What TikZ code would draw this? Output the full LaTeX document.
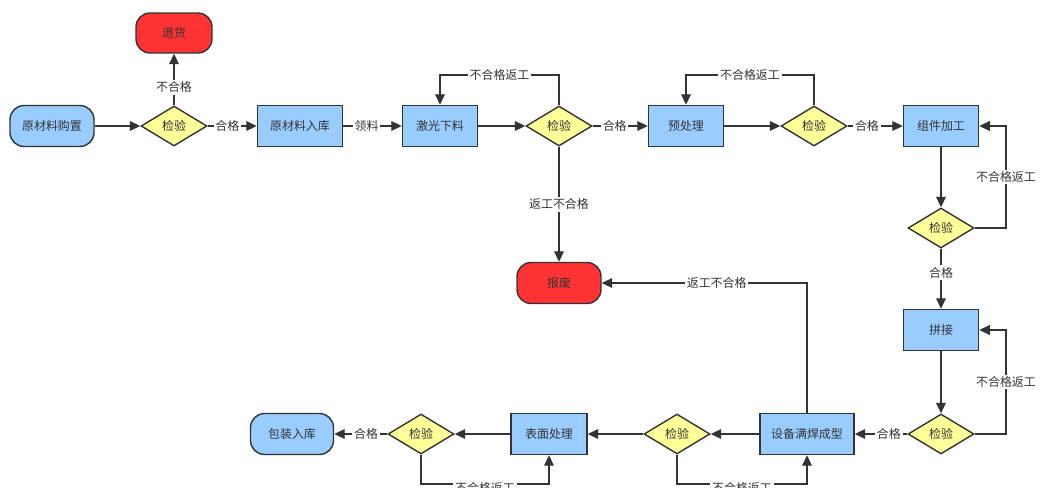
\documentclass[tikz,border=0pt]{standalone}
\usepackage{fontspec}
\setmainfont{Noto Sans CJK SC}
\usepackage{tikz}
\usetikzlibrary{shapes.geometric}
\usetikzlibrary{arrows.meta}
\definecolor{boxblue}{HTML}{99CCFF}
\definecolor{endred}{HTML}{FF3333}
\definecolor{chkyellow}{HTML}{FFFF99}
\definecolor{inkgray}{HTML}{333333}
\tikzset{
every node/.style={ % Font and colour of all texts
font=\fontsize{6.8}{8}\selectfont,
text=inkgray},
proc/.style={ % Process steps
draw=inkgray,
line width=0.8pt,
fill=boxblue,
minimum width=1.5cm,
minimum height=0.82cm},
startend/.style={proc, rounded corners=0.28cm, minimum width=1.68cm},
endbox/.style={startend, fill=endred},
check/.style={ % Inspection diamonds
diamond,
draw=inkgray,
line width=0.8pt,
fill=chkyellow,
minimum width=1.32cm,
minimum height=0.8cm,
inner sep=0pt},
lbl/.style={fill=white, inner sep=1pt}, % Labels on connectors
flow/.style={draw=inkgray, line width=0.8pt, -{Triangle[length=6pt,width=5.5pt]}},
every edge/.style={flow}}

\begin{document}
\begin{tikzpicture}[x=0.02cm, y=-0.02cm]
\useasboundingbox (0,0) rectangle (1041,487);
\node[startend] (buy) at (52,126) {原材料购置};
\node[endbox, minimum width=1.52cm, minimum height=0.8cm] (ret) at (174,33) {退货};
\node[check] (c1) at (174,126) {检验};
\node[proc, minimum width=1.7cm] (store) at (300,126) {原材料入库};
\node[proc] (laser) at (440,126) {激光下料};
\node[check] (c2) at (559,126) {检验};
\node[proc] (pre) at (686,126) {预处理};
\node[check] (c3) at (814,126) {检验};
\node[proc] (assem) at (941,126) {组件加工};
\node[check] (c4) at (941,228) {检验};
\node[proc] (join) at (941,330) {拼接};
\node[check] (c5) at (941,434) {检验};
\node[proc, minimum width=1.88cm] (weld) at (807,434) {设备满焊成型};
\node[endbox] (scrap) at (559,283) {报废};
\node[check] (c6) at (677,434) {检验};
\node[proc, minimum width=1.52cm] (surf) at (549,434) {表面处理};
\node[check] (c7) at (421,434) {检验};
\node[startend, minimum width=1.66cm] (pack) at (292,434) {包装入库};
% top row
\draw (buy) edge (c1) ;
\draw (c1) edge node[lbl, pos=0.35] {不合格} (ret) ;
\draw (c1) edge node[lbl, pos=0.4] {合格} (store) ;
\draw (store) edge node[lbl, pos=0.4] {领料} (laser) ;
\draw (laser) edge (c2) ;
\draw (c2) edge node[lbl, pos=0.4] {合格} (pre) ;
\draw (pre) edge (c3) ;
\draw (c3) edge node[lbl, pos=0.35] {合格} (assem) ;
\draw (c2) edge node[lbl] {返工不合格} (scrap) ;
% right column
\draw (assem) edge (c4) ;
\draw (c4) edge node[lbl, pos=0.4] {合格} (join) ;
\draw (join) edge (c5) ;
% bottom row
\draw (c5) edge node[lbl, pos=0.35] {合格} (weld) ;
\draw (weld) edge (c6) ;
\draw (c6) edge (surf) ;
\draw (surf) edge (c7) ;
\draw (c7) edge node[lbl, pos=0.4] {合格} (pack) ;
% rework loops
\draw[flow] (c2.north) -- (c2.north |- 0,75) -- node[lbl] {不合格返工} (laser.north |- 0,75) -- (laser.north);
\draw[flow] (c3.north) -- (c3.north |- 0,75) -- node[lbl] {不合格返工} (pre.north |- 0,75) -- (pre.north);
\draw[flow] (c4.east) -- (c4.east -| 1006,0) -- node[lbl] {不合格返工} (assem.east -| 1006,0) -- (assem.east);
\draw[flow] (c5.east) -- (c5.east -| 1006,0) -- node[lbl] {不合格返工} (join.east -| 1006,0) -- (join.east);
\draw[flow] (c6.south) -- (c6.south |- 0,484) -- node[lbl, yshift=-2pt] {不合格返工} (weld.south |- 0,484) -- (weld.south);
\draw[flow] (c7.south) -- (c7.south |- 0,484) -- node[lbl, yshift=-2pt] {不合格返工} (surf.south |- 0,484) -- (surf.south);
\draw[flow] (weld.north) |- node[lbl, pos=0.72] {返工不合格} (scrap.east);
\end{tikzpicture}
\end{document}
